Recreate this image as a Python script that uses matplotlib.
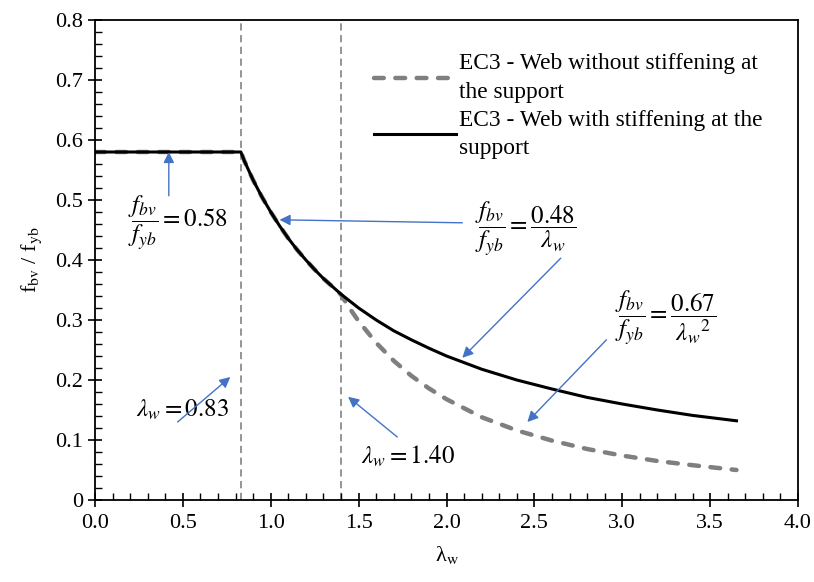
import matplotlib
matplotlib.use("Agg")
import matplotlib.pyplot as plt
from matplotlib.ticker import MultipleLocator, FuncFormatter

plt.rcParams['font.family'] = ['Liberation Serif', 'DejaVu Serif']
plt.rcParams['mathtext.fontset'] = 'stix'

# values
x_with = [0.0, 0.2, 0.4, 0.6, 0.83, 0.85, 0.90, 0.95, 1.00, 1.05, 1.10, 1.15, 1.20,
          1.25, 1.30, 1.35, 1.40, 1.50, 1.60, 1.70, 1.80, 1.90, 2.00, 2.20, 2.40,
          2.60, 2.80, 3.00, 3.20, 3.40, 3.65]
y_with = [0.58, 0.58, 0.58, 0.58, 0.58, 0.565, 0.533, 0.505, 0.480, 0.457, 0.436, 0.417, 0.400,
          0.384, 0.369, 0.356, 0.343, 0.320, 0.300, 0.282, 0.267, 0.253, 0.240, 0.218, 0.200,
          0.185, 0.171, 0.160, 0.150, 0.141, 0.132]

x_without = [0.0, 0.2, 0.4, 0.6, 0.83, 0.85, 0.90, 0.95, 1.00, 1.05, 1.10, 1.15, 1.20,
             1.25, 1.30, 1.35, 1.40, 1.45, 1.50, 1.60, 1.70, 1.80, 1.90, 2.00, 2.20,
             2.40, 2.60, 2.80, 3.00, 3.20, 3.40, 3.65]
y_without = [0.58, 0.58, 0.58, 0.58, 0.58, 0.565, 0.533, 0.505, 0.480, 0.457, 0.436, 0.417, 0.400,
             0.384, 0.369, 0.356, 0.342, 0.319, 0.298, 0.262, 0.232, 0.207, 0.186, 0.168, 0.138,
             0.116, 0.099, 0.085, 0.074, 0.065, 0.058, 0.050]

limits = [0.83, 1.40]
labels = ['EC3 - Web without stiffening at\nthe support',
          'EC3 - Web with stiffening at the\nsupport']

blue = '#4472C4'

fig = plt.figure(figsize=(8.14, 5.82), dpi=100)
ax = fig.add_axes([95/814, 82/582, 703/814, 480/582])

for xv in limits:
    ax.axvline(xv, color='#8c8c8c', lw=1.3, ls=(0, (4, 2.5)), zorder=1)

ax.plot(x_without, y_without, color='#7f7f7f', lw=3.2, dashes=(2.2, 2.6),
        dash_capstyle='round', label=labels[0], zorder=2)
ax.plot(x_with, y_with, color='black', lw=2.2, label=labels[1], zorder=3)

ax.set_xlim(0, 4)
ax.set_ylim(0, 0.8)
ax.xaxis.set_major_locator(MultipleLocator(0.5))
ax.xaxis.set_minor_locator(MultipleLocator(0.1))
ax.yaxis.set_major_locator(MultipleLocator(0.1))
ax.yaxis.set_minor_locator(MultipleLocator(0.02))
ax.xaxis.set_major_formatter(FuncFormatter(lambda v, p: f'{v:.1f}'))
ax.yaxis.set_major_formatter(FuncFormatter(lambda v, p: '0' if abs(v) < 1e-9 else f'{v:.1f}'))
ax.tick_params(which='major', direction='inout', length=10, width=1.2, labelsize=16)
ax.tick_params(which='minor', direction='in', length=5, width=1.0)
ax.tick_params(axis='x', pad=5)
for s in ax.spines.values():
    s.set_linewidth(1.3)

ax.set_xlabel('λ$_{\\rm w}$', fontsize=16, labelpad=8)
ax.set_ylabel('f$_{\\rm bv}$ / f$_{\\rm yb}$', fontsize=16, labelpad=8)

leg = ax.legend(loc='upper left', bbox_to_anchor=(0.384, 0.95), frameon=False,
                fontsize=16.8, handlelength=3.5, handletextpad=0.15, labelspacing=0.3,
                borderaxespad=0)
for t in leg.get_texts():
    t.set_linespacing(1.45)

fs = 18
ax.text(0.47, 0.463, r'$\dfrac{f_{bv}}{f_{yb}} = 0.58$', fontsize=fs, ha='center', va='center')
ax.text(2.45, 0.453, r'$\dfrac{f_{bv}}{f_{yb}} = \dfrac{0.48}{\lambda_w}$', fontsize=fs,
        ha='center', va='center')
ax.text(3.25, 0.303, r'$\dfrac{f_{bv}}{f_{yb}} = \dfrac{0.67}{{\lambda_w}^{2}}$', fontsize=fs,
        ha='center', va='center')
ax.text(0.5, 0.15, r'$\lambda_w = 0.83$', fontsize=fs, ha='center', va='center')
ax.text(1.78, 0.072, r'$\lambda_w = 1.40$', fontsize=fs, ha='center', va='center')

arrows = [((0.42, 0.507), (0.42, 0.58)),
          ((2.09, 0.462), (1.05, 0.467)),
          ((2.65, 0.403), (2.09, 0.237)),
          ((2.91, 0.267), (2.46, 0.13)),
          ((0.47, 0.13), (0.77, 0.205)),
          ((1.72, 0.105), (1.44, 0.172))]
for tail, tip in arrows:
    ax.annotate('', xy=tip, xytext=tail,
                arrowprops=dict(arrowstyle='-|>', color=blue, lw=1.0,
                                mutation_scale=16, shrinkA=0, shrinkB=0))

fig.savefig('out.png', dpi=100)
